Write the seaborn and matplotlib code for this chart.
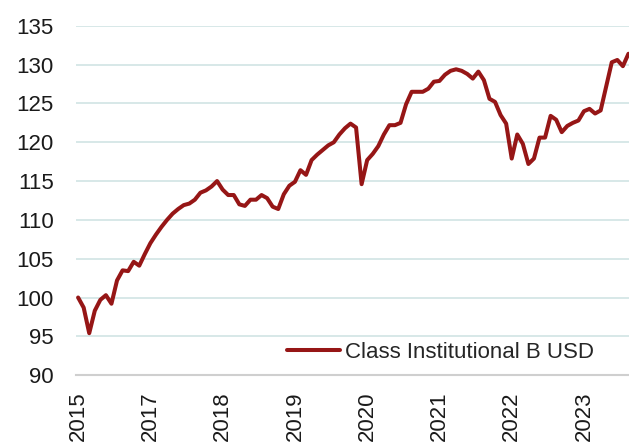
import os

os.environ.setdefault("MPLCONFIGDIR", "/tmp/matplotlib")

import matplotlib
import numpy as np
import pandas as pd
import seaborn as sns

matplotlib.use("Agg")
import matplotlib.pyplot as plt


SERIES_NAME = "Class Institutional B USD"

# monthly index levels, Dec 2015 = 100
index_values = [
    100.0, 98.7, 95.4, 98.3, 99.7, 100.3, 99.2, 102.2, 103.5, 103.4,
    104.6, 104.1, 105.6, 107.0, 108.1, 109.1, 110.0, 110.8, 111.4, 111.9,
    112.1, 112.6, 113.5, 113.8, 114.3, 115.0, 113.9, 113.2, 113.2, 112.0,
    111.8, 112.6, 112.6, 113.2, 112.8, 111.7, 111.4, 113.3, 114.4, 114.9,
    116.4, 115.8, 117.7, 118.4, 119.0, 119.6, 120.0, 121.0, 121.8, 122.4,
    121.9, 114.6, 117.7, 118.5, 119.5, 121.0, 122.2, 122.2, 122.5, 124.9,
    126.5, 126.5, 126.5, 126.9, 127.8, 127.9, 128.7, 129.2, 129.4, 129.2,
    128.8, 128.2, 129.1, 128.0, 125.6, 125.2, 123.5, 122.4, 117.9, 121.0,
    119.8, 117.2, 117.9, 120.6, 120.6, 123.4, 122.9, 121.3, 122.1, 122.5,
    122.8, 124.0, 124.3, 123.7, 124.1, 127.2, 130.3, 130.6, 129.8, 131.4,
]

tick_labels = ["2015", "2017", "2018", "2019", "2020", "2021", "2022", "2023"]
y_ticks = [90, 95, 100, 105, 110, 115, 120, 125, 130, 135]

LINE_COLOR = "#961616"
GRID_COLOR = "#d4e6e6"

sns.set_style("white")
plt.rcParams["font.family"] = ["Liberation Sans", "DejaVu Sans"]

df = pd.DataFrame({"pos": np.arange(len(index_values)), "value": index_values})

fig = plt.figure(figsize=(6.29, 4.45), dpi=100)
ax = fig.add_axes([0.121, 0.157, 0.879, 0.785])

sns.lineplot(data=df, x="pos", y="value", ax=ax, color=LINE_COLOR,
             linewidth=2.9, label=SERIES_NAME, zorder=3)

ax.set_ylim(90, 135)
ax.set_xlim(-0.36, 99.1)
ax.set_yticks(y_ticks)
ax.set_xticks(df["pos"].iloc[::13][:len(tick_labels)])
ax.set_xticklabels(tick_labels, rotation=90)
ax.set_xlabel("")
ax.set_ylabel("")

ax.grid(axis="y", color=GRID_COLOR, linewidth=1.3)
ax.grid(axis="x", visible=False)
for side in ["top", "right", "left"]:
    ax.spines[side].set_visible(False)
ax.spines["bottom"].set_color("#cfcfcf")
ax.spines["bottom"].set_linewidth(1.5)

ax.tick_params(axis="y", length=0, pad=16, labelsize=16, labelcolor="#1a1a1a")
ax.tick_params(axis="x", length=0, pad=12, labelsize=16, labelcolor="#1a1a1a")

ax.legend(loc="center left", bbox_to_anchor=(0.3816, 0.065), frameon=False,
          fontsize=16, handlelength=2.4, handletextpad=0.2, borderpad=0,
          borderaxespad=0)

fig.savefig("out.png", dpi=100)
plt.close(fig)
